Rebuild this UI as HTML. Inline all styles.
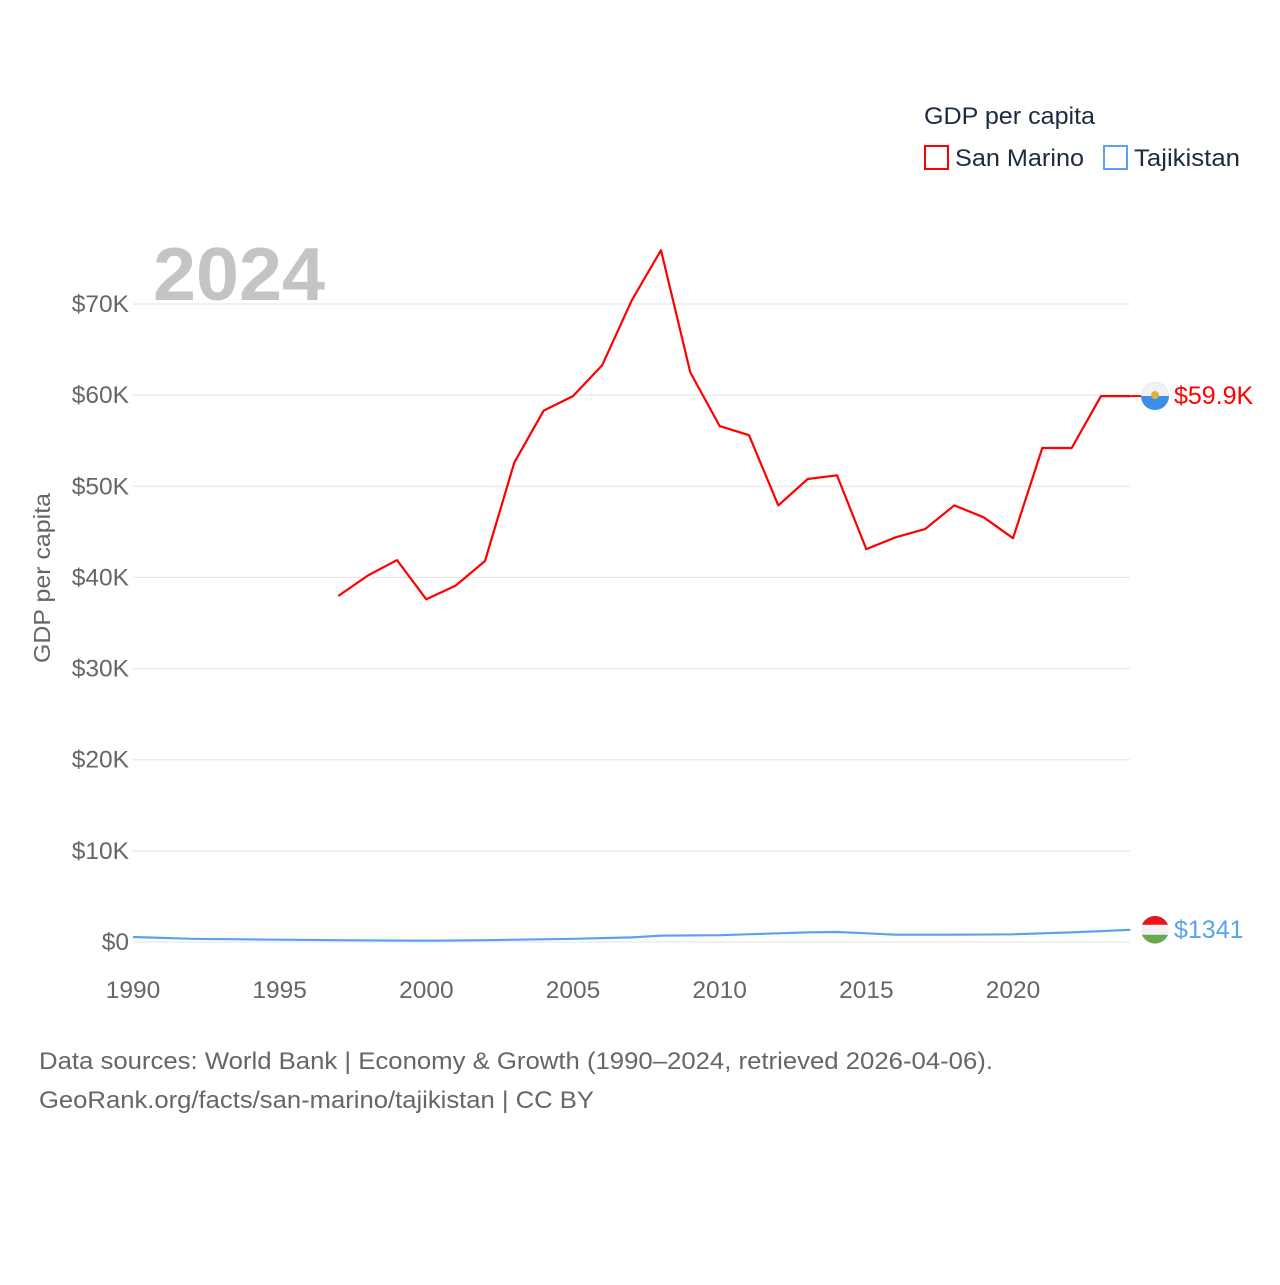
<!DOCTYPE html>
<html><head><meta charset="utf-8"><style>
html,body{margin:0;padding:0;background:#fff;}
svg text{font-family:"Liberation Sans",sans-serif;}
</style></head><body>
<svg id="chart" width="1280" height="1280" viewBox="0 0 1280 1280" xmlns="http://www.w3.org/2000/svg">
<rect width="1280" height="1280" fill="#fff"/>
<g id="grid"></g>
<g id="yticks"></g>
<g id="xticks"></g>
<text x="153" y="300" font-size="75" font-weight="bold" fill="#c4c4c4" textLength="172" lengthAdjust="spacingAndGlyphs">2024</text>
<text transform="translate(50,578) rotate(-90)" text-anchor="middle" font-size="23" fill="#666" textLength="170" lengthAdjust="spacingAndGlyphs">GDP per capita</text>
<g id="series"></g>
<text x="924" y="124" font-size="24" fill="#1c2b3f" textLength="171" lengthAdjust="spacingAndGlyphs">GDP per capita</text>
<g>
<rect x="925" y="146" width="23" height="23" fill="none" stroke="#f00" stroke-width="2"/>
<text x="955" y="166" font-size="24" fill="#1c2b3f" textLength="129" lengthAdjust="spacingAndGlyphs">San Marino</text></g>
<g>
<rect x="1104" y="146" width="23" height="23" fill="none" stroke="#5aa2ef" stroke-width="2"/>
<text x="1134" y="166" font-size="24" fill="#1c2b3f" textLength="106" lengthAdjust="spacingAndGlyphs">Tajikistan</text></g>
<text x="39" y="1069" font-size="24" fill="#666" textLength="954" lengthAdjust="spacingAndGlyphs">Data sources: World Bank | Economy &amp; Growth (1990–2024, retrieved 2026-04-06).</text>
<text x="39" y="1108" font-size="24" fill="#666" textLength="555" lengthAdjust="spacingAndGlyphs">GeoRank.org/facts/san-marino/tajikistan | CC BY</text>
</svg>
<script>
const yTicks=[0,10,20,30,40,50,60,70];
const xTicks=[1990,1995,2000,2005,2010,2015,2020];
const smYears=[1997,1998,1999,2000,2001,2002,2003,2004,2005,2006,2007,2008,2009,2010,2011,2012,2013,2014,2015,2016,2017,2018,2019,2020,2021,2022,2023,2024];
const smValues=[37.96,40.2,41.9,37.6,39.1,41.8,52.6,58.3,59.9,63.3,70.4,75.9,62.5,56.6,55.6,47.9,50.8,51.2,43.1,44.4,45.3,47.9,46.6,44.3,54.2,54.2,59.9,59.9];
const tjYears=[1990,1992,1995,1997,2000,2002,2005,2007,2008,2010,2012,2013,2014,2015,2016,2018,2020,2022,2023,2024];
const tjValues=[0.55,0.35,0.25,0.2,0.14,0.2,0.35,0.5,0.7,0.75,0.95,1.05,1.1,0.95,0.8,0.8,0.85,1.05,1.2,1.341];
const NS="http://www.w3.org/2000/svg";
const xs=y=>133+(y-1990)*(1013-133)/30;
const ys=v=>942-v*(942-304)/70;
function mk(t,a,p){const e=document.createElementNS(NS,t);for(const k in a)e.setAttribute(k,a[k]);p.appendChild(e);return e;}
const grid=document.getElementById('grid'),yt=document.getElementById('yticks'),xt=document.getElementById('xticks'),se=document.getElementById('series');
yTicks.forEach(v=>{
 const l=mk('line',{x1:133,x2:1130,y1:ys(v),y2:ys(v),stroke:'#e3e3e3','stroke-width':1},grid);
 
 
 const t=mk('text',{x:129,y:ys(v)+8,'text-anchor':'end','font-size':24.5,fill:'#666'},yt);
 t.textContent=v===0?'$0':'$'+v+'K';
 
 
});
xTicks.forEach(y=>{
 const t=mk('text',{x:xs(y),y:998,'text-anchor':'middle','font-size':24.5,fill:'#666'},xt);
 t.textContent=y;
 
 
});
function line(years,vals,color,name){
 const d=years.map((y,i)=>(i?'L':'M')+xs(y).toFixed(1)+','+ys(vals[i]).toFixed(1)).join('');
 const p=mk('path',{d:d,fill:'none',stroke:color,'stroke-width':2.2,'stroke-linejoin':'round'},se);
 
 
}
line(smYears,smValues,'#f00','san-marino-line');
line(tjYears,tjValues,'#5aa2ef','tajikistan-line');
const smLast=smValues[smValues.length-1],tjLast=tjValues[tjValues.length-1];
const sx=xs(2024);
mk('line',{x1:sx,x2:sx+12,y1:ys(smLast),y2:ys(smLast),stroke:'#f00','stroke-width':2},se);
const f1=mk('g',{},se);


mk('circle',{cx:1155,cy:ys(smLast),r:14,fill:'#3b8fe8'},f1);
mk('path',{d:`M1141,${ys(smLast)} a14,14 0 0 1 28,0 z`,fill:'#f2f2f2'},f1);
mk('circle',{cx:1155,cy:ys(smLast)-1,r:4,fill:'#e0b040'},f1);
const l1=mk('text',{x:1174,y:ys(smLast)+8,'font-size':25,fill:'#f00'},se);
l1.textContent='$'+smLast.toFixed(1)+'K';


const f2=mk('g',{},se);


const cy=ys(tjLast);
mk('circle',{cx:1155,cy:cy,r:14,fill:'#f2f2f2'},f2);
mk('path',{d:`M1142,${cy-5} a14,14 0 0 1 26,0 z`,fill:'#e8141c'},f2);
mk('path',{d:`M1142,${cy+5} a14,14 0 0 0 26,0 z`,fill:'#6aa84f'},f2);
const l2=mk('text',{x:1174,y:cy+8,'font-size':25,fill:'#5aa2ef'},se);
l2.textContent='$'+Math.round(tjLast*1000);


</script>
</body></html>
